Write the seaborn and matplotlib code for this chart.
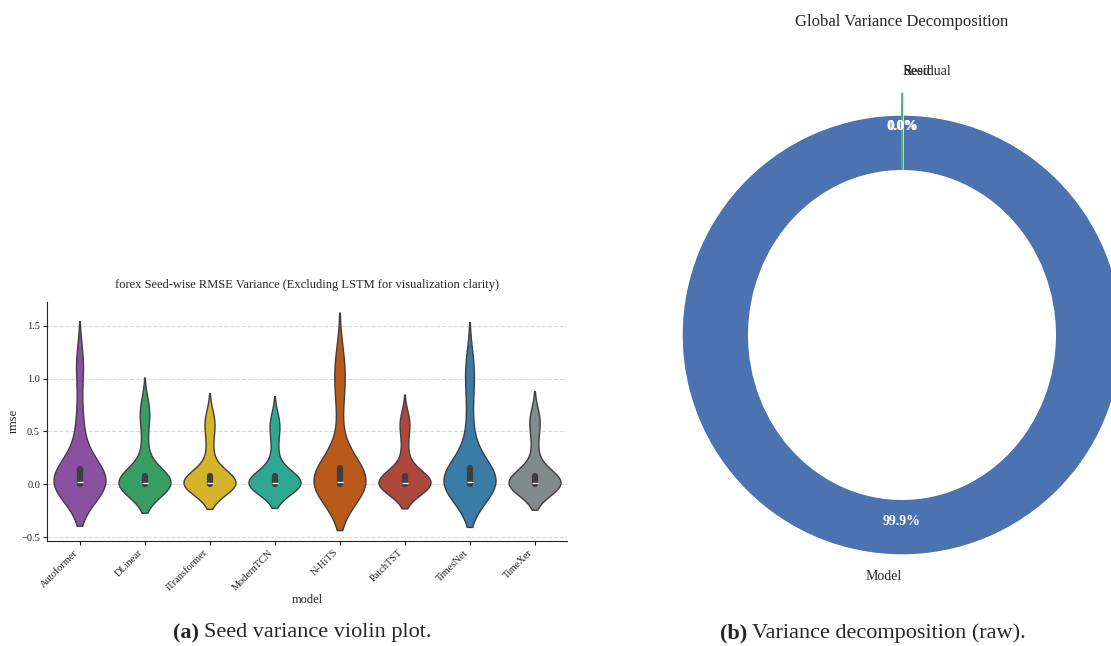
import numpy as np
import pandas as pd
import matplotlib
matplotlib.use("Agg")
import matplotlib.pyplot as plt
import seaborn as sns
from matplotlib.patches import Ellipse

# ---------------- data ----------------
models = ["Autoformer", "DLinear", "iTransformer", "ModernTCN",
          "N-HiTS", "PatchTST", "TimesNet", "TimeXer"]

# seed-wise RMSE variance per model (forex)
autoformer = [0.000, 0.000, 0.000, 0.001, 0.002, 0.003, 0.004, 0.006, 0.008, 0.012, 0.020,
              0.035, 0.060, 0.090, 0.120, 0.140, 0.370, 0.480, 0.720, 1.120, 1.150]
dlinear = [0.000, 0.000, 0.000, 0.001, 0.001, 0.002, 0.003, 0.004, 0.005, 0.007, 0.010,
           0.015, 0.025, 0.040, 0.060, 0.080, 0.250, 0.420, 0.600, 0.700, 0.740]
itransformer = [0.000, 0.000, 0.000, 0.001, 0.001, 0.002, 0.003, 0.004, 0.005, 0.007, 0.010,
                0.015, 0.025, 0.040, 0.060, 0.080, 0.240, 0.380, 0.520, 0.600, 0.630]
moderntcn = [0.000, 0.000, 0.000, 0.001, 0.001, 0.002, 0.003, 0.004, 0.005, 0.007, 0.010,
             0.015, 0.025, 0.040, 0.060, 0.080, 0.230, 0.360, 0.500, 0.580, 0.610]
nhits = [0.000, 0.000, 0.000, 0.001, 0.002, 0.003, 0.004, 0.006, 0.008, 0.012, 0.020,
         0.035, 0.060, 0.090, 0.120, 0.150, 0.400, 0.780, 0.950, 1.100, 1.190]
patchtst = [0.000, 0.000, 0.000, 0.001, 0.001, 0.002, 0.003, 0.004, 0.005, 0.007, 0.010,
            0.015, 0.025, 0.040, 0.060, 0.080, 0.230, 0.360, 0.520, 0.590, 0.620]
timesnet = [0.000, 0.000, 0.000, 0.001, 0.002, 0.003, 0.004, 0.006, 0.008, 0.012, 0.020,
            0.035, 0.060, 0.090, 0.120, 0.150, 0.390, 0.580, 0.880, 1.080, 1.130]
timexer = [0.000, 0.000, 0.000, 0.001, 0.001, 0.002, 0.003, 0.004, 0.005, 0.007, 0.010,
           0.015, 0.025, 0.040, 0.060, 0.080, 0.250, 0.400, 0.550, 0.620, 0.640]

model_values = [autoformer, dlinear, itransformer, moderntcn,
                nhits, patchtst, timesnet, timexer]

model_colors = ["#8E44AD", "#27AE60", "#F1C40F", "#1ABC9C",
                "#D35400", "#C0392B", "#2980B9", "#7F8C8D"]

# global variance decomposition (percent)
components = ["Model", "Seed", "Residual"]
shares = [99.93, 0.02, 0.04]
component_colors = ["#4C72B0", "#DD8452", "#55A868"]

# ---------------- style ----------------
sns.set_style("ticks")
plt.rcParams["font.family"] = ["Liberation Serif", "DejaVu Serif"]
plt.rcParams["axes.edgecolor"] = "#222222"

W, H = 1111, 646
fig = plt.figure(figsize=(W / 100, H / 100), dpi=100)

# ---------------- (a) violin plot ----------------
ax1 = fig.add_axes([47 / W, 1 - 541 / H, 520 / W, (541 - 301.7) / H])
df = pd.DataFrame({
    "model": np.repeat(models, [len(v) for v in model_values]),
    "rmse": np.concatenate(model_values),
})
sns.violinplot(data=df, x="model", y="rmse", hue="model", order=models,
               hue_order=models, palette=model_colors, density_norm="width",
               inner="box", linewidth=1.0, legend=False, ax=ax1)
ax1.yaxis.grid(True, linestyle="--", color="#d9d9d9", linewidth=0.8)
ax1.set_axisbelow(True)
sns.despine(ax=ax1)
ax1.set_yticks([-0.5, 0.0, 0.5, 1.0, 1.5])
ax1.tick_params(axis="both", labelsize=7.5, length=3, pad=2)
plt.setp(ax1.get_xticklabels(), rotation=45, ha="right")
ax1.set_xlabel("model", fontsize=9, labelpad=1)
ax1.set_ylabel("rmse", fontsize=9, labelpad=1)
ax1.set_title("forex Seed-wise RMSE Variance (Excluding LSTM for visualization clarity)",
              fontsize=9, pad=10)

# ---------------- (b) donut chart ----------------
cx, cy, R = 902, 335, 220
half = 1.3 * R
ax2 = fig.add_axes([(cx - half) / W, (H - cy - half) / H, 2 * half / W, 2 * half / H])
wedges, texts, autotexts = ax2.pie(
    shares, labels=components, colors=component_colors, explode=(0, 0.1, 0.1),
    autopct="%1.1f%%", pctdistance=0.85, startangle=90, labeldistance=1.1,
    textprops={"fontsize": 10})
wedges[2].set_edgecolor(component_colors[2])
wedges[2].set_linewidth(1.0)
for t in autotexts:
    t.set_color("white")
    t.set_fontweight("bold")
hole = Ellipse((0, 0), 1.4, 1.5, facecolor="white", edgecolor="none", zorder=2)
ax2.add_patch(hole)
for t in texts + autotexts:
    t.set_zorder(4)
ax2.set_xlim(-1.3, 1.3)
ax2.set_ylim(-1.3, 1.3)
ax2.set_aspect("equal")
ax2.axis("off")
fig.text(cx / W, 1 - 22 / H, "Global Variance Decomposition", fontsize=12,
         ha="center", va="center")

# ---------------- captions ----------------
fig.canvas.draw()
renderer = fig.canvas.get_renderer()


def caption(x_px, tag, body):
    y = 1 - 633 / H
    t1 = fig.text(x_px / W, y, tag, fontsize=16, fontweight="bold",
                  ha="left", va="center")
    bb = t1.get_window_extent(renderer)
    fig.text((bb.x1 + 5) / W, y, body, fontsize=16, ha="left", va="center")


caption(173, "(a)", "Seed variance violin plot.")
caption(720, "(b)", "Variance decomposition (raw).")

fig.savefig("out.png", dpi=100)
